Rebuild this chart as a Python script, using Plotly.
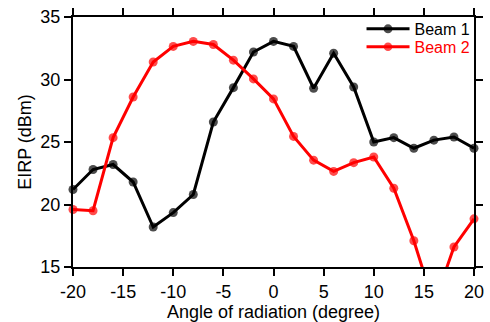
import plotly.graph_objects as go

angles = [-20, -18, -16, -14, -12, -10, -8, -6, -4, -2, 0, 2, 4, 6, 8, 10, 12, 14, 16, 18, 20]
beam1 = [21.2, 22.8, 23.2, 21.8, 18.2, 19.35, 20.8, 26.6, 29.35, 32.2, 33.05, 32.65, 29.3, 32.1, 29.4, 25.0, 25.35, 24.5, 25.15, 25.4, 24.5]
beam2 = [19.6, 19.5, 25.35, 28.6, 31.4, 32.65, 33.05, 32.8, 31.55, 30.05, 28.45, 25.45, 23.55, 22.65, 23.35, 23.8, 21.3, 17.1, 12.0, 16.6, 18.85]

x_ticks = [-20, -15, -10, -5, 0, 5, 10, 15, 20]
x_ticklabels = ["-20", "-15", "-10", "-5", "0", "5", "10", "15", "20"]
y_ticks = [15, 20, 25, 30, 35]
y_ticklabels = ["15", "20", "25", "30", "35"]

y_min, y_max = 15, 35
x_min, x_max = -20, 20

font = "Liberation Sans, Arial, sans-serif"

def sizes(vals):
    return [9 if y_min <= v <= y_max else 0 for v in vals]

fig = go.Figure()
fig.add_trace(go.Scatter(
    x=angles, y=beam1, mode="lines+markers", name="Beam 1",
    line=dict(color="black", width=3),
    marker=dict(color="black", size=sizes(beam1), line=dict(width=0)),
    cliponaxis=False, legend="legend",
))
fig.add_trace(go.Scatter(
    x=angles, y=beam2, mode="lines+markers", name="Beam 2",
    line=dict(color="#ff0000", width=3),
    marker=dict(color="#ff0000", size=sizes(beam2), line=dict(width=0)),
    cliponaxis=False, legend="legend2",
))

axis_common = dict(
    showline=True, linecolor="black", linewidth=2,
    ticks="outside", ticklen=7, tickwidth=2, tickcolor="black",
    mirror="allticks", showgrid=False, zeroline=False,
    tickfont=dict(family=font, size=18, color="black"),
)

leg_common = dict(xanchor="left", yanchor="middle", bgcolor="rgba(0,0,0,0)",
                  itemwidth=43, borderwidth=0)

fig.update_layout(
    width=490, height=322,
    margin=dict(l=73, r=7, t=16, b=55),
    paper_bgcolor="white", plot_bgcolor="white",
    font=dict(family=font, size=18, color="black"),
    xaxis=dict(range=[x_min, x_max], tickvals=x_ticks, ticktext=x_ticklabels,
               title=dict(text="Angle of radiation (degree)", font=dict(size=18), standoff=1),
               **axis_common),
    yaxis=dict(range=[y_min, y_max], tickvals=y_ticks, ticktext=y_ticklabels,
               title=dict(text="EIRP (dBm)", font=dict(size=18), standoff=4),
               **axis_common),
    legend=dict(x=(368 - 73) / 410, y=(267 - 28) / 251,
                font=dict(family=font, size=16, color="black"), **leg_common),
    legend2=dict(x=(368 - 73) / 410, y=(267 - 46) / 251,
                 font=dict(family=font, size=16, color="#ff0000"), **leg_common),
    showlegend=True,
)

fig.write_html("out.html")
